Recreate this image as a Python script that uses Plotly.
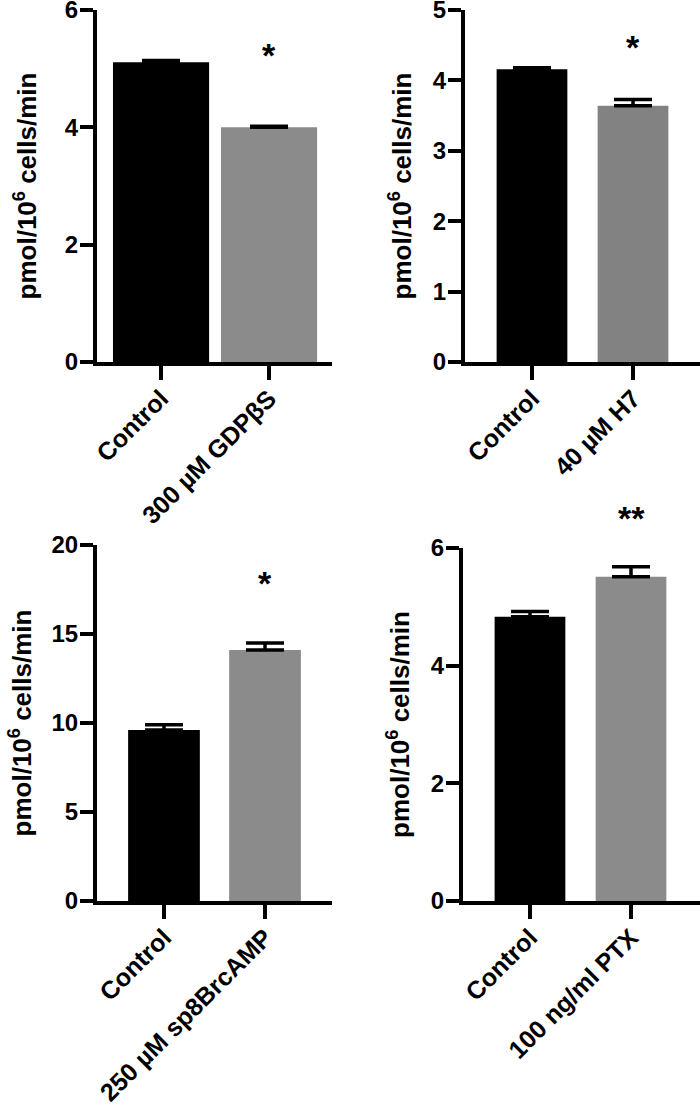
import plotly.graph_objects as go

W, H = 700, 1108

# ---- data ----
p1_labels = ["Control", "300 µM GDPβS"]
p1_means = [5.11, 4.00]
p1_errs = [0.03, 0.02]
p1_sig = "*"

p2_labels = ["Control", "40 µM H7"]
p2_means = [4.16, 3.64]
p2_errs = [0.02, 0.09]
p2_sig = "*"

p3_labels = ["Control", "250 µM sp8BrcAMP"]
p3_means = [9.6, 14.1]
p3_errs = [0.3, 0.4]
p3_sig = "*"

p4_labels = ["Control", "100 ng/ml PTX"]
p4_means = [4.83, 5.51]
p4_errs = [0.09, 0.17]
p4_sig = "**"

y_title = "pmol/10<sup>6</sup> cells/min"

# ---- layout spec (pixels) ----
panels = [
    dict(labels=p1_labels, means=p1_means, errs=p1_errs, sig=p1_sig,
         xpx=(97, 332), ypx=(10, 362), xr=(-0.593, 1.583), yr=(0, 6),
         ticks=[0, 2, 4, 6], bw=0.89, gray="#8b8b8b", sigy=0.872, so=22),
    dict(labels=p2_labels, means=p2_means, errs=p2_errs, sig=p2_sig,
         xpx=(465, 700), ypx=(10, 362), xr=(-0.663, 1.663), yr=(0, 5),
         ticks=[0, 1, 2, 3, 4, 5], bw=0.70, gray="#828282", sigy=0.895, so=15),
    dict(labels=p3_labels, means=p3_means, errs=p3_errs, sig=p3_sig,
         xpx=(97, 332), ypx=(545, 901), xr=(-0.663, 1.663), yr=(0, 20),
         ticks=[0, 5, 10, 15, 20], bw=0.71, gray="#8b8b8b", sigy=0.893, so=13),
    dict(labels=p4_labels, means=p4_means, errs=p4_errs, sig=p4_sig,
         xpx=(463, 700), ypx=(548, 901), xr=(-0.663, 1.683), yr=(0, 6),
         ticks=[0, 2, 4, 6], bw=0.70, gray="#8b8b8b", sigy=1.085, so=15),
]

FONT = "Liberation Sans, Arial, sans-serif"
fig = go.Figure()
layout = dict(template="none", width=W, height=H,
              margin=dict(l=0, r=0, t=0, b=0, pad=0),
              paper_bgcolor="white", plot_bgcolor="white", showlegend=False,
              font=dict(family=FONT, color="black", weight="bold"),
              annotations=[])

for i, p in enumerate(panels, start=1):
    xa = "x" if i == 1 else f"x{i}"
    ya = "y" if i == 1 else f"y{i}"
    fig.add_trace(go.Bar(
        x=[0, 1], y=p["means"], width=p["bw"],
        marker=dict(color=["#000000", p["gray"]], line=dict(width=0)),
        error_y=dict(type="data", array=p["errs"], arrayminus=[0, 0],
                     symmetric=False, color="black", thickness=3.5, width=19),
        xaxis=xa, yaxis=ya, cliponaxis=False,
    ))
    xdom = [p["xpx"][0] / W, p["xpx"][1] / W]
    ydom = [1 - p["ypx"][1] / H, 1 - p["ypx"][0] / H]
    layout["xaxis" if i == 1 else f"xaxis{i}"] = dict(
        domain=xdom, anchor=ya, range=list(p["xr"]), automargin=False,
        tickmode="array", tickvals=[0, 1], ticktext=p["labels"],
        tickangle=-45, ticks="outside", ticklen=14, tickwidth=4,
        tickcolor="black", showline=True, linewidth=4, linecolor="black",
        showgrid=False, zeroline=False, ticklabeloverflow="allow",
        ticklabelstandoff=-6,
        tickfont=dict(size=25, family=FONT, weight="bold", color="black"),
    )
    layout["yaxis" if i == 1 else f"yaxis{i}"] = dict(
        domain=ydom, anchor=xa, range=list(p["yr"]), automargin=False,
        tickmode="array", tickvals=p["ticks"],
        ticks="outside", ticklen=13, tickwidth=4, tickcolor="black",
        showline=True, linewidth=4, linecolor="black",
        showgrid=False, zeroline=False, ticklabeloverflow="allow",
        ticklabelstandoff=-3,
        tickfont=dict(size=24, family=FONT, weight="bold", color="black"),
        title=dict(text=y_title,
                   font=dict(size=26, family=FONT, weight="bold", color="black"),
                   standoff=p["so"]),
    )
    layout["annotations"].append(dict(
        text=p["sig"], x=1, y=p["sigy"], xref=xa, yref=f"{ya} domain",
        showarrow=False, font=dict(size=34, family=FONT, weight="bold", color="black"),
        xanchor="center", yanchor="middle",
    ))

fig.update_layout(**layout)
fig.write_html("out.html", config={"displayModeBar": False},
               post_script="document.body.style.margin='0';document.body.style.overflow='hidden';")
